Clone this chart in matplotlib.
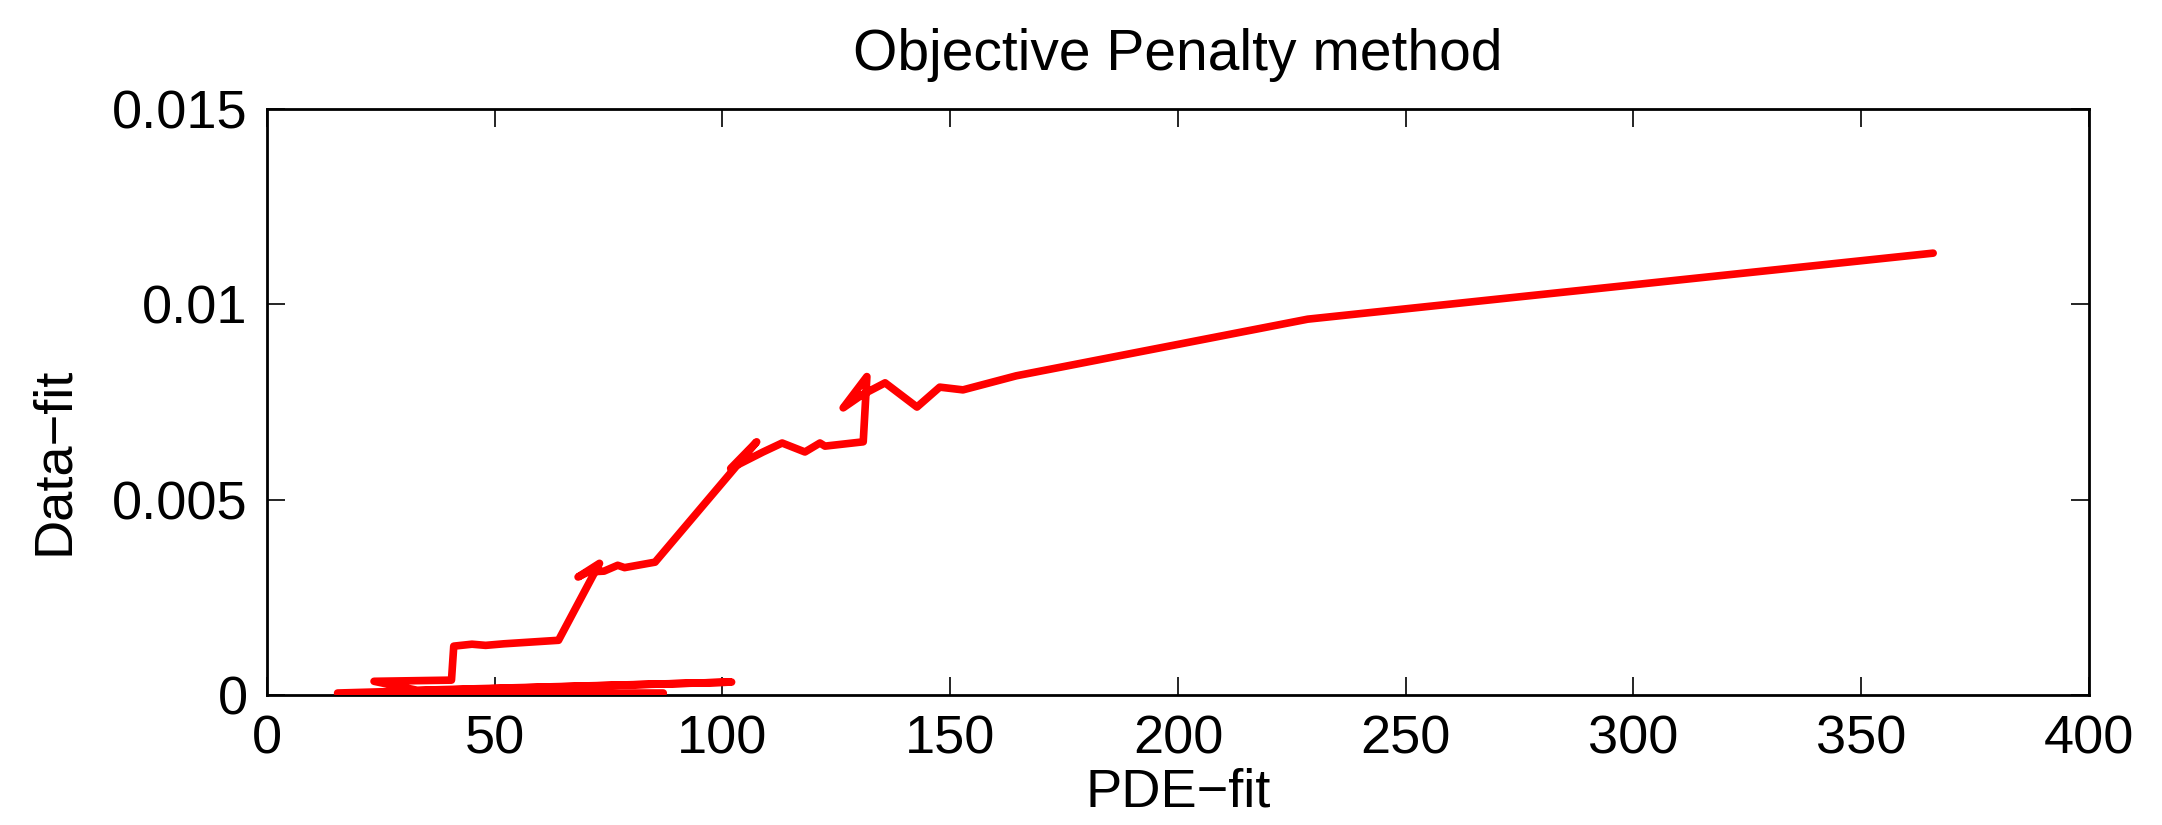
import numpy as np
from matplotlib import pyplot as plt

# trayectoria del metodo (PDE-fit vs Data-fit)
pde_fit = [87, 15.5, 102, 33, 23.5, 40.5, 41, 45, 48, 52, 64,
           73, 68.3, 70.5, 74, 77, 78.5, 85.2,
           102.7, 107.5, 101.8, 108.9, 113.1, 118.1, 121.4, 122.5, 130.9,
           131.7, 126.5, 130.6, 135.7, 142.7, 147.7, 152.8, 164.5, 228.5, 365.8]
data_fit = [0.00005, 0.00005, 0.00033, 0.00012, 0.00035, 0.00038, 0.00125, 0.0013, 0.00127, 0.00131, 0.0014,
            0.00337, 0.00302, 0.00315, 0.00317, 0.00332, 0.00326, 0.0034,
            0.00581, 0.00648, 0.0058, 0.00622, 0.00645, 0.00622, 0.00645, 0.00637, 0.00648,
            0.00815, 0.00735, 0.00768, 0.00799, 0.00737, 0.00788, 0.00781, 0.00817, 0.00962, 0.01131]

x_ticks = [0, 50, 100, 150, 200, 250, 300, 350, 400]
y_ticks = [0, 0.005, 0.01, 0.015]
y_labels = ["0", "0.005", "0.01", "0.015"]

plt.rcParams['font.family'] = ['Liberation Sans', 'DejaVu Sans']

fig = plt.figure(figsize=(21.62, 8.25), dpi=100)
ax = fig.add_axes([0.1235, 0.1576, 0.8427, 0.7103])

ax.plot(pde_fit, data_fit, color=(1, 0, 0), linewidth=5.5,
        solid_capstyle='round', solid_joinstyle='round', zorder=3)

ax.set_xlim(0, 400)
ax.set_ylim(0, 0.015)
ax.set_xticks(x_ticks)
ax.set_yticks(y_ticks)
ax.set_yticklabels(y_labels)
ax.tick_params(direction='in', length=13, width=1.2, top=True, right=True,
               labelsize=39, pad=14)
for s in ax.spines.values():
    s.set_linewidth(2)

ax.set_title("Objective Penalty method", fontsize=41, pad=28)
ax.set_xlabel("PDE\u2212fit", fontsize=39, labelpad=2)
ax.set_ylabel("Data\u2212fit", fontsize=39)
ax.yaxis.set_label_coords(-0.103, 0.40)

fig.savefig("out.png", dpi=100)
